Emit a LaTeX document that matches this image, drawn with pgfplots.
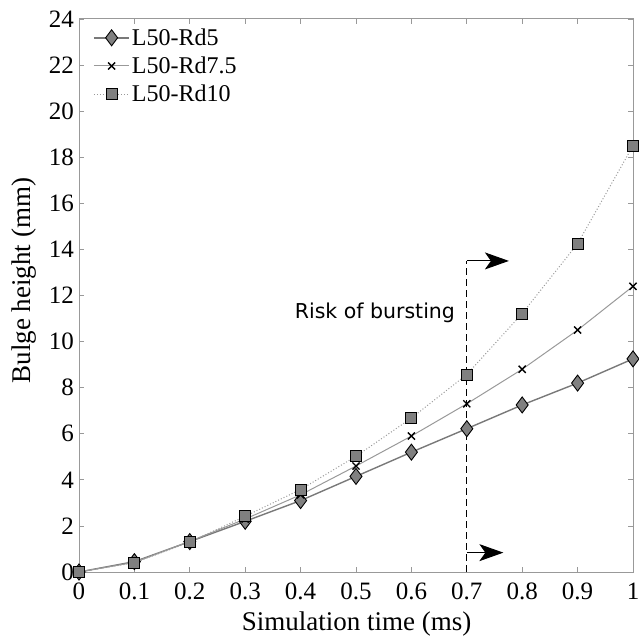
\documentclass[border=0pt]{standalone}
\usepackage{pgfplots}
\pgfplotsset{compat=1.18}
\usepackage{fontspec}
\setmainfont{Liberation Serif}
\newfontfamily\dejavu{DejaVu Sans}
\usetikzlibrary{arrows.meta}
\definecolor{markfill}{gray}{0.5}
\begin{document}
\begin{tikzpicture}
\begin{axis}[
  at={(79pt,68pt)}, anchor=south west,
  scale only axis, width=554pt, height=553pt,
  xmin=0, xmax=1, ymin=0, ymax=24,
  xtick={0,0.1,0.2,0.3,0.4,0.5,0.6,0.7,0.8,0.9,1},
  xticklabels={0,0.1,0.2,0.3,0.4,0.5,0.6,0.7,0.8,0.9,1},
  ytick={0,2,4,6,8,10,12,14,16,18,20,22,24},
  yticklabels={0,2,4,6,8,10,12,14,16,18,20,22,24},
  tick align=inside, major tick length=5pt,
  tick style={color=gray!80, line width=0.8pt},
  axis line style={gray!80, line width=1pt},
  /pgf/number format/assume math mode=true,
  ticklabel style={font=\fontsize{25}{25}\selectfont, inner sep=0pt},
  yticklabel style={xshift=-5pt},
  xticklabel style={yshift=-11pt},
  xlabel={Simulation time (ms)}, ylabel={Bulge height (mm)},
  label style={font=\fontsize{27}{27}\selectfont},
  xlabel style={at={(axis description cs:0.501,-0.105)}, anchor=base},
  ylabel style={at={(axis description cs:-0.088,0.527)}, anchor=base, rotate=0},
  legend style={at={(0.02,0.99)}, anchor=north west, draw=none, fill=none,
    font=\fontsize{24}{24}\selectfont, row sep=6pt,
    legend image code/.code={\draw[mark repeat=2,mark phase=2,#1] plot coordinates {(0cm,0cm)(0.62cm,0cm)(1.24cm,0cm)};}},
  legend cell align=left,
]
\addplot[color=gray!95!black, line width=1.4pt, mark=diamond*, mark size=8pt,
  mark options={solid, fill=markfill, draw=black, line width=0.9pt}]
  coordinates {(0,0)(0.1,0.45)(0.2,1.32)(0.3,2.2)(0.4,3.1)(0.5,4.15)(0.6,5.2)(0.7,6.22)(0.8,7.25)(0.9,8.2)(1,9.25)};
\addlegendentry{L50-Rd5}
\addplot[color=gray!80, line width=1pt, mark=x, mark size=5pt,
  mark options={solid, draw=black, line width=1.4pt}]
  coordinates {(0,0)(0.1,0.42)(0.2,1.33)(0.3,2.3)(0.4,3.35)(0.5,4.6)(0.6,5.9)(0.7,7.3)(0.8,8.8)(0.9,10.5)(1,12.4)};
\addlegendentry{L50-Rd7.5}
\addplot[color=gray!80, line width=1pt, dotted, mark=square*, mark size=5.5pt,
  mark options={solid, fill=markfill, draw=black, line width=0.9pt}]
  coordinates {(0,0)(0.1,0.4)(0.2,1.3)(0.3,2.42)(0.4,3.58)(0.5,5.02)(0.6,6.68)(0.7,8.57)(0.8,11.22)(0.9,14.25)(1,18.5)};
\addlegendentry{L50-Rd10}
\draw[black, line width=1.3pt, dash pattern=on 7pt off 4pt] (axis cs:0.7,0) -- (axis cs:0.7,13.5);
\draw[black, line width=1.1pt, -{Stealth[length=24pt,width=17pt,inset=6pt]}] (axis cs:0.7,13.5) -- (axis cs:0.776,13.5);
\draw[black, line width=1.1pt, -{Stealth[length=24pt,width=17pt,inset=6pt]}] (axis cs:0.7,0.84) -- (axis cs:0.766,0.84);
\node[anchor=base east, font=\dejavu\fontsize{20.5}{20.5}\selectfont, inner sep=0pt] at (axis cs:0.679,11.02) {Risk of bursting};
\end{axis}
\pgfresetboundingbox
\useasboundingbox (0,0) rectangle (639pt,640pt);
\end{tikzpicture}
\end{document}
